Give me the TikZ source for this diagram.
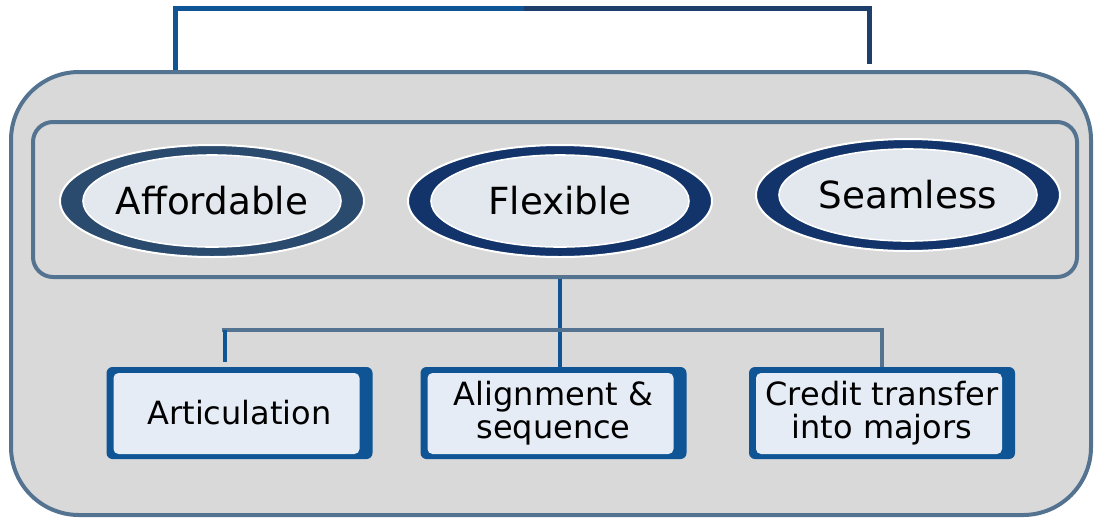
\documentclass[tikz,border=0pt]{standalone}
\usepackage{fontspec}
\setmainfont{DejaVu Sans}
\usepackage{xcolor}
\usepackage{tikz}
\usetikzlibrary{shapes.geometric,positioning}

\definecolor{panelgray}{HTML}{D9D9D9}
\definecolor{framegray}{HTML}{547391}
\definecolor{linkblue}{HTML}{0F5494}
\definecolor{linknavy}{HTML}{1E3F6C}
\definecolor{ringslate}{HTML}{2A4A6E}
\definecolor{ringnavy}{HTML}{12346A}
\definecolor{ovalfill}{HTML}{E3E7EE}
\definecolor{cardfill}{HTML}{E6ECF5}

\begin{document}
\begin{tikzpicture}[
		x=0.75pt, y=-0.75pt,
		panel/.style={
			rectangle,
			rounded corners=51pt,
			draw=framegray,
			line width=3pt,
			fill=panelgray,
			minimum width=810pt,
			minimum height=332.25pt,
			inner sep=0pt
		},
		group/.style={
			rectangle,
			rounded corners=15pt,
			draw=framegray,
			line width=3pt,
			minimum width=783pt,
			minimum height=116.25pt,
			inner sep=0pt
		},
		oval/.style={
			ellipse,
			fill=#1,
			draw=white,
			line width=1.5pt,
			minimum width=228pt,
			minimum height=84pt,
			inner sep=0pt,
			font=\fontsize{28}{32}\selectfont,
			path picture={
				\draw[white, line width=1.2pt, fill=ovalfill]
				(path picture bounding box.center) ellipse (96.75pt and 34.5pt);
			}
		},
		card/.style={
			rectangle,
			rounded corners=4.5pt,
			fill=linkblue,
			minimum width=199.5pt,
			minimum height=69pt,
			inner sep=0pt,
			align=center,
			font=\fontsize{24}{25}\selectfont,
			path picture={
				\fill[cardfill, rounded corners=3.75pt]
				([xshift=5.25pt, yshift=3.75pt]path picture bounding box.south west) rectangle
				([xshift=-9.75pt, yshift=-4.5pt]path picture bounding box.north east);
			}
		},
		link/.style={
			draw=#1,
			line width=3pt
		}
		]
		
		\useasboundingbox (0,0) rectangle (1095,519);
		
		\node[panel] (panel) at (551,293.5) {};
		\node[group] (group) at (555,199.5) {};
		
		\node[oval=ringslate] (afford) at (212,201) {Affordable};
		\node[oval=ringnavy] (flex) at (560,201) {Flexible};
		\node[oval=ringnavy] (seam) at (908,195) {Seamless};
		
		\node[card] (artic) at (239.5,413) {Articulation};
		\node[card] (align) at (553.5,413) {Alignment \&\\sequence};
		\node[card] (credit) at (882,413) {Credit transfer\\into majors};
		
		\coordinate (topL) at (175,8);
		\coordinate (topM) at (524,8);
		\coordinate (topR) at (869,8);
		\coordinate (topRend) at (869,64);
		\coordinate (busL) at (222,330);
		\coordinate (busR) at (882,330);
		\coordinate (dropA) at (225,330);
		
		\draw[link=linkblue, line width=3.75pt] (topL |- panel.north) -- (topL) -- (topM);
		\draw[link=linknavy, line width=3.75pt] (topM) -- (topR) -- (topRend);
		
		\draw[link=linkblue] (flex |- group.south) -- (flex |- align.north);
		\draw[link=framegray] (busL) -- (busR) -- (busR |- credit.north);
		\draw[link=linkblue] (dropA) -- ([yshift=3.75pt]artic.north -| dropA);
		
	\end{tikzpicture}
\end{document}
